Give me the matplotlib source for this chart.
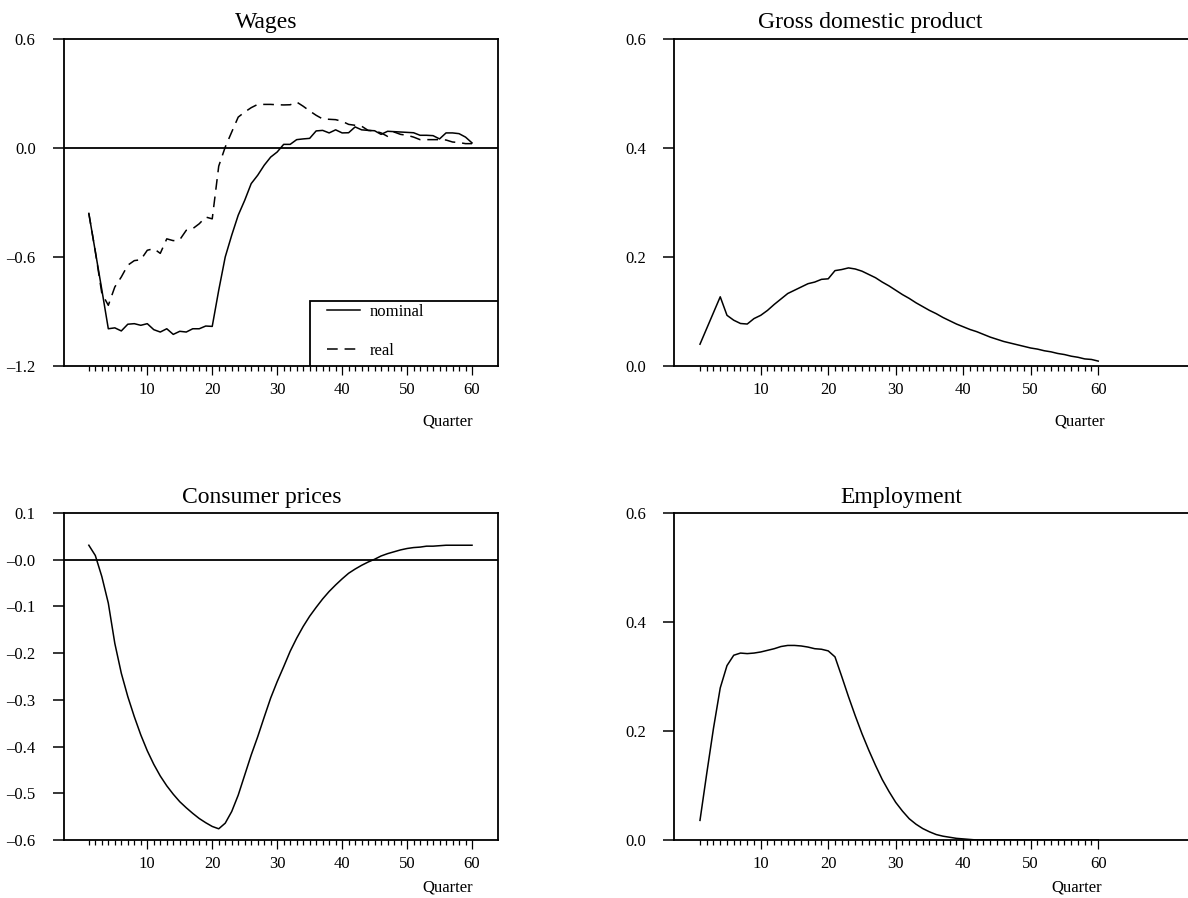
import matplotlib
matplotlib.use("Agg")
import matplotlib.pyplot as plt
from matplotlib.patches import Rectangle
from matplotlib.ticker import FixedLocator

plt.rcParams['font.family'] = ['Liberation Serif', 'DejaVu Serif']

quarters = list(range(1, 61))

wages_nominal = [-0.36, -0.57, -0.78, -0.995, -0.99, -1.007, -0.97, -0.967, -0.976, -0.967,
                 -1.0, -1.013, -0.995, -1.026, -1.009, -1.013, -0.995, -0.995, -0.98, -0.982,
                 -0.783, -0.60, -0.48, -0.37, -0.288, -0.196, -0.15, -0.095, -0.05, -0.022,
                 0.02, 0.02, 0.046, 0.05, 0.053, 0.094, 0.097, 0.083, 0.10, 0.083,
                 0.084, 0.116, 0.10, 0.097, 0.095, 0.075, 0.092, 0.09, 0.088, 0.086,
                 0.084, 0.07, 0.07, 0.068, 0.05, 0.083, 0.083, 0.079, 0.06, 0.028]

wages_real = [-0.36, -0.57, -0.80, -0.866, -0.765, -0.71, -0.645, -0.62, -0.615, -0.563,
              -0.554, -0.58, -0.50, -0.51, -0.505, -0.453, -0.444, -0.417, -0.38, -0.39,
              -0.10, 0.005, 0.088, 0.17, 0.198, 0.222, 0.24, 0.24, 0.24, 0.238,
              0.237, 0.238, 0.253, 0.23, 0.204, 0.18, 0.16, 0.158, 0.156, 0.147,
              0.13, 0.125, 0.12, 0.097, 0.094, 0.083, 0.064, 0.088, 0.075, 0.07,
              0.06, 0.046, 0.046, 0.046, 0.046, 0.044, 0.033, 0.03, 0.024, 0.024]

gdp = [0.040, 0.069, 0.098, 0.127, 0.093, 0.084, 0.078, 0.077, 0.087, 0.093,
       0.102, 0.113, 0.123, 0.133, 0.139, 0.145, 0.151, 0.154, 0.159, 0.160,
       0.175, 0.177, 0.180, 0.178, 0.174, 0.168, 0.162, 0.154, 0.147, 0.139,
       0.131, 0.124, 0.116, 0.109, 0.102, 0.096, 0.089, 0.083, 0.077, 0.072,
       0.067, 0.063, 0.058, 0.053, 0.049, 0.045, 0.042, 0.039, 0.036, 0.033,
       0.031, 0.028, 0.026, 0.023, 0.021, 0.018, 0.016, 0.013, 0.012, 0.009]

cpi = [0.031, 0.009, -0.036, -0.093, -0.179, -0.243, -0.293, -0.336, -0.375, -0.409,
       -0.438, -0.463, -0.484, -0.502, -0.518, -0.531, -0.543, -0.554, -0.563, -0.571,
       -0.576, -0.564, -0.539, -0.504, -0.461, -0.418, -0.379, -0.337, -0.296, -0.261,
       -0.229, -0.196, -0.168, -0.143, -0.121, -0.102, -0.084, -0.068, -0.054, -0.041,
       -0.029, -0.020, -0.012, -0.005, 0.001, 0.008, 0.013, 0.017, 0.021, 0.024,
       0.026, 0.027, 0.029, 0.029, 0.030, 0.031, 0.031, 0.031, 0.031, 0.031]

employment = [0.036, 0.122, 0.205, 0.279, 0.320, 0.339, 0.343, 0.342, 0.343, 0.345,
              0.348, 0.351, 0.355, 0.357, 0.357, 0.356, 0.354, 0.351, 0.350, 0.347,
              0.336, 0.300, 0.263, 0.228, 0.195, 0.165, 0.137, 0.111, 0.089, 0.069,
              0.053, 0.039, 0.029, 0.021, 0.015, 0.010, 0.007, 0.005, 0.003, 0.002,
              0.001, 0.0, 0.0, 0.0, 0.0, 0.0, 0.0, 0.0, 0.0, 0.0,
              0.0, 0.0, 0.0, 0.0, 0.0, 0.0, 0.0, 0.0, 0.0, 0.0]

wages_yticks = [0.6, 0.0, -0.6, -1.2]
wages_ylabels = ['0.6', '0.0', '\u20130.6', '\u20131.2']
gdp_yticks = [0.0, 0.2, 0.4, 0.6]
gdp_ylabels = ['0.0', '0.2', '0.4', '0.6']
cpi_yticks = [0.1, 0.0, -0.1, -0.2, -0.3, -0.4, -0.5, -0.6]
cpi_ylabels = ['0.1', '\u20130.0', '\u20130.1', '\u20130.2', '\u20130.3', '\u20130.4', '\u20130.5', '\u20130.6']
emp_yticks = [0.0, 0.2, 0.4, 0.6]
emp_ylabels = ['0.0', '0.2', '0.4', '0.6']

W, H = 1188, 898
fig = plt.figure(figsize=(W / 100, H / 100), dpi=100)


def make_ax(left, right, top, bottom):
    return fig.add_axes([left / W, (H - bottom) / H, (right - left) / W, (bottom - top) / H])


def style(ax, xlim, ylim, yticks, ylabels, right_spine=True):
    ax.set_xlim(*xlim)
    ax.set_ylim(*ylim)
    for s in ax.spines.values():
        s.set_linewidth(1.3)
    ax.spines['right'].set_visible(right_spine)
    ax.xaxis.set_major_locator(FixedLocator([10, 20, 30, 40, 50, 60]))
    ax.xaxis.set_minor_locator(FixedLocator(quarters))
    ax.tick_params(axis='x', which='major', direction='out', length=6.5, width=0.9,
                   labelsize=12, pad=5, top=False)
    ax.tick_params(axis='x', which='minor', direction='out', length=3.6, width=0.9, top=False)
    ax.set_yticks(yticks)
    ax.set_yticklabels(ylabels)
    ax.tick_params(axis='y', direction='out', length=8, width=1.1, labelsize=12,
                   pad=12, right=False)


# Wages
ax1 = make_ax(63.5, 498, 39, 366)
ax1.axhline(0, color='black', lw=1.3)
ax1.plot(quarters, wages_nominal, color='black', lw=1.1)
ax1.plot(quarters, wages_real, color='black', lw=1.1, dashes=(7, 4.5))
style(ax1, (-2.9, 64), (-1.2, 0.6), wages_yticks, wages_ylabels)
ax1.add_patch(Rectangle((0.567, 0.0), 0.433, 0.199, transform=ax1.transAxes,
                        facecolor='white', edgecolor='black', lw=1.3, zorder=5))
leg = ax1.legend(ax1.lines[1:], ['nominal', 'real'], loc='upper left',
                 bbox_to_anchor=(0.606, 0.19), frameon=False, borderpad=0,
                 borderaxespad=0, handlelength=2.0, handletextpad=0.6,
                 labelspacing=1.4, fontsize=12)
leg.set_zorder(6)

# GDP
ax2 = make_ax(674, 1188, 39, 366)
ax2.plot(quarters, gdp, color='black', lw=1.1)
style(ax2, (-2.85, 73.3), (0.0, 0.6), gdp_yticks, gdp_ylabels, right_spine=False)

# Consumer prices
ax3 = make_ax(63.5, 498, 513, 840)
ax3.axhline(0, color='black', lw=1.3)
ax3.plot(quarters, cpi, color='black', lw=1.1)
style(ax3, (-2.9, 64), (-0.6, 0.1), cpi_yticks, cpi_ylabels)

# Employment
ax4 = make_ax(674, 1188, 513, 840)
ax4.plot(quarters, employment, color='black', lw=1.1)
style(ax4, (-2.85, 73.3), (0.0, 0.6), emp_yticks, emp_ylabels, right_spine=False)

# titles
title_kw = dict(fontsize=17, ha='center', va='baseline')
fig.text(266 / W, 1 - 28 / H, 'Wages', **title_kw)
fig.text(870 / W, 1 - 28 / H, 'Gross domestic product', **title_kw)
fig.text(262 / W, 1 - 503 / H, 'Consumer prices', **title_kw)
fig.text(901 / W, 1 - 503 / H, 'Employment', **title_kw)

# "Quarter" labels
q_kw = dict(fontsize=12, ha='right', va='baseline')
fig.text(473 / W, 1 - 426 / H, 'Quarter', **q_kw)
fig.text(1105 / W, 1 - 426 / H, 'Quarter', **q_kw)
fig.text(473 / W, 1 - 892 / H, 'Quarter', **q_kw)
fig.text(1102 / W, 1 - 892 / H, 'Quarter', **q_kw)

fig.savefig('out.png', dpi=100, facecolor='white')
